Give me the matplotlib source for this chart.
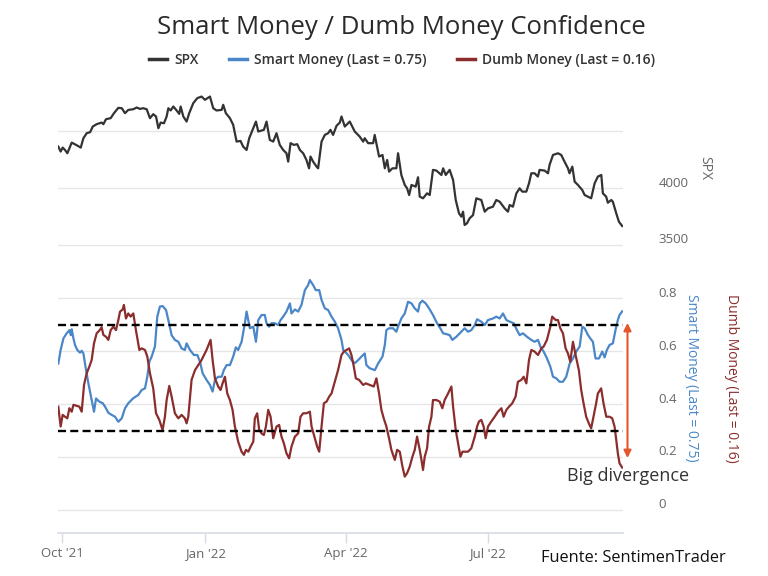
import numpy as np
import matplotlib
matplotlib.use('Agg')
import matplotlib.pyplot as plt
import matplotlib.dates as mdates
from matplotlib.transforms import ScaledTranslation
from matplotlib.lines import Line2D

plt.rcParams['font.family'] = ['Open Sans', 'DejaVu Sans']

start_date = np.datetime64('2021-10-01')

# ---- SPX (days since 2021-10-01, index level) ----
spx_days = [-2.4,-0.9,0.4,1.9,3.4,6.2,9.0,12.0,13.7,15.8,
            18.0,19.7,22.2,25.4,26.5,28.2,31.2,33.3,36.1,38.3,
            40.4,42.5,45.7,47.9,50.0,52.1,54.3,56.4,58.5,60.3,
            61.8,63.3,65.4,67.1,68.2,69.7,71.4,73.5,75.2,76.1,
            77.8,79.9,81.6,84.2,86.8,89.5,91.7,94.9,97.0,99.1,
            102.4,103.4,105.1,107.7,109.8,112.0,114.5,116.2,118.4,120.1,
            122.7,124.4,125.9,128.0,129.5,131.2,133.3,135.5,137.6,139.7,
            141.9,144.0,145.1,146.6,148.7,150.9,152.6,154.7,156.8,158.5,
            159.4,161.1,163.3,164.3,166.5,168.6,170.7,172.2,173.9,176.1,
            178.2,
            179.3,181.4,184.6,187.8,191.0,193.2,194.2,196.4,199.6,200.6,
            203.4,205.6,207.1,208.6,209.8,212.0,214.5,215.6,217.7,219.9,
            221.4,222.7,224.2,226.9,228.4,229.5,231.6,234.2,235.9,238.0,
            240.2,243.4,244.5,246.2,248.7,250.9,252.6,254.7,256.2,257.3,
            258.3,259.8,261.5,263.7,265.8,269.0,271.2,273.3,276.5,278.6,
            280.8,284.0,286.1,287.2,289.3,291.5,293.6,295.3,297.9,299.6,
            301.1,303.2,305.3,306.4,309.6,311.8,312.8,315.0,318.2,320.3,
            322.4,324.6,325.6,327.4,328.9,331.0,333.8,335.3,337.4,339.5,
            341.7,343.8,346.0,347.0,349.1,350.2,352.4,353.4,355.6,357.3,
            359.4]
spx_vals = [4366,4322,4357,4336,4307,4401,4381,4357,4440,4484,
            4493,4543,4564,4578,4564,4608,4617,4661,4708,4705,
            4661,4690,4696,4711,4699,4705,4696,4617,4652,4632,
            4528,4578,4572,4632,4705,4685,4720,4685,4655,4720,
            4632,4587,4661,4750,4794,4808,4779,4808,4705,4685,
            4690,4735,4661,4617,4558,4410,4416,4366,4336,4440,
            4528,4587,4499,4508,4514,4587,4425,4410,4484,4381,
            4336,4307,4233,4396,4381,4387,4336,4307,4248,4174,
            4278,4233,4189,4174,4410,4469,4484,4514,4469,4549,
            4578,
            4632,4543,4587,4499,4454,4410,4440,4396,4396,4469,
            4278,4292,4174,4248,4145,4174,4174,4307,4115,4027,
            3997,3938,4027,4012,4095,3924,3909,3953,3938,4160,
            4154,4115,4174,4115,4160,4071,3894,3776,3747,3791,
            3673,3688,3732,3761,3909,3894,3791,3820,3835,3894,
            3879,3820,3791,3850,3835,3953,3997,3968,3968,4041,
            4130,4130,4101,4160,4154,4130,4204,4292,4307,4292,
            4233,4174,4130,4189,4056,4027,3982,3938,3924,3909,
            4041,4101,4115,3953,3924,3870,3894,3879,3776,3702,
            3664]

# ---- Smart Money confidence ----
smart_days = [-2.4,-0.9,0.9,3.0,4.7,5.6,6.2,7.3,8.3,9.8,
              11.5,12.6,13.7,15.4,16.9,19.0,20.5,21.8,23.9,26.1,
              27.6,29.7,31.8,34.0,36.1,38.3,40.4,42.5,45.7,48.9,
              51.1,53.2,54.7,56.0,57.5,59.6,61.1,62.8,64.5,66.7,
              68.2,70.3,72.4,74.6,76.7,78.8,79.9,82.1,84.6,86.8,
              88.5,90.2,92.7,94.9,96.6,98.1,100.2,102.4,103.8,105.6,
              107.7,109.8,111.5,113.0,115.2,117.3,118.4,120.5,122.7,124.4,
              125.9,128.0,130.1,131.2,132.9,134.4,136.5,138.7,140.2,141.9,
              144.0,146.2,147.2,149.4,151.5,153.6,155.8,157.9,159.0,161.1,
              162.8,165.0,166.5,168.6,170.7,172.9,175.0,177.1,179.3,180.4,
              181.4,183.6,185.7,187.8,190.0,192.1,194.2,195.3,197.4,200.7,
              202.8,205.6,207.1,208.1,209.8,212.4,214.5,215.6,217.7,219.9,
              222.0,224.2,226.3,228.4,
              229.5,231.2,233.3,235.5,238.0,240.6,242.7,244.5,246.6,248.7,
              250.4,253.0,256.2,258.3,260.5,262.6,264.8,266.3,269.0,271.2,
              273.3,276.5,278.6,280.8,282.9,285.1,287.2,289.8,291.9,293.6,
              295.7,298.3,301.1,303.2,305.4,306.9,309.0,311.1,313.3,315.0,
              317.1,319.2,321.4,323.5,325.7,327.8,329.9,332.1,333.8,335.3,
              337.4,338.9,340.6,342.3,344.5,346.6,348.1,349.6,351.3,353.4,
              355.1,356.6,357.7,359.4]
smart_vals = [0.553,0.604,0.648,0.667,0.679,0.660,0.682,0.648,0.623,0.604,
              0.594,0.601,0.591,0.528,0.478,0.415,0.371,0.421,0.409,0.403,
              0.390,0.367,0.359,0.352,0.333,0.346,0.384,0.403,0.422,0.434,
              0.453,0.459,0.503,0.560,0.579,0.617,0.730,0.768,0.770,0.755,
              0.717,0.660,0.642,0.635,0.610,0.604,0.629,0.604,0.585,0.585,
              0.560,0.516,0.491,0.472,0.447,0.491,0.503,0.503,0.528,0.547,
              0.547,0.579,0.614,0.604,0.635,0.705,0.749,0.686,0.692,0.635,
              0.717,0.736,0.736,0.705,0.692,0.705,0.705,0.698,0.717,0.730,
              0.749,0.780,0.742,0.757,0.749,0.774,0.830,0.849,0.868,0.849,
              0.830,0.830,0.793,0.761,0.755,0.730,0.711,0.686,0.642,0.604,
              0.598,0.585,0.566,0.554,0.566,0.579,0.591,0.547,0.535,0.528,
              0.553,0.579,0.623,0.679,0.686,0.686,0.673,0.692,0.723,0.742,
              0.786,0.780,0.761,0.749,
              0.780,0.790,0.780,0.761,0.736,0.705,0.686,0.667,0.664,0.660,
              0.642,0.654,0.673,0.686,0.673,0.679,0.698,0.720,0.711,0.698,
              0.717,0.723,0.730,0.723,0.742,0.717,0.711,0.705,0.679,0.660,
              0.667,0.654,0.642,0.635,0.642,0.617,0.598,0.573,0.541,0.503,
              0.497,0.484,0.484,0.503,0.553,0.572,0.598,0.617,0.692,0.686,
              0.661,0.648,0.635,0.572,0.572,0.598,0.576,0.604,0.623,0.629,
              0.679,0.717,0.736,0.750]

# ---- Dumb Money confidence ----
dumb_days = [-2.4,-0.9,0.4,1.9,3.4,4.7,6.2,7.3,9.4,11.1,
             12.6,14.1,15.8,17.5,19.0,20.5,22.2,23.9,25.4,26.5,
             28.2,29.7,31.2,32.9,34.6,36.1,37.2,38.9,39.7,41.0,
             42.5,44.0,45.7,47.4,49.6,51.1,53.2,54.7,56.4,58.5,
             60.3,62.4,64.5,66.0,67.1,68.8,70.3,72.4,74.6,76.7,
             78.8,79.9,81.0,83.1,85.3,87.4,89.5,92.7,95.3,96.6,
             98.1,100.2,101.7,103.0,104.5,106.0,
             107.7,109.4,110.9,113.0,115.2,116.7,118.0,119.5,121.0,122.7,
             123.7,125.2,126.5,128.0,129.5,130.8,132.3,133.8,135.5,137.6,
             139.3,140.8,142.3,144.0,145.7,147.2,149.4,151.5,153.0,154.7,
             156.8,159.0,160.1,162.2,163.7,165.0,166.5,168.0,169.7,171.4,
             172.9,175.0,177.1,179.3,180.8,182.5,184.2,185.7,187.2,188.5,
             190.6,193.2,194.9,197.4,200.0,201.7,203.4,204.9,206.4,208.1,
             209.8,211.3,213.5,215.0,216.7,218.4,219.9,221.4,223.1,224.8,
             226.3,227.8,
             229.5,230.6,231.6,232.7,234.2,235.5,237.0,238.0,240.2,242.3,
             244.0,245.5,247.7,249.8,250.9,252.6,254.1,255.6,256.9,258.3,
             260.5,262.6,264.8,266.3,267.5,269.0,270.5,271.8,273.3,275.4,
             277.6,279.7,281.9,283.3,285.1,286.8,288.9,291.0,292.5,294.7,
             296.2,297.9,299.6,301.1,303.2,305.4,307.5,309.0,311.1,313.3,
             314.5,316.7,318.2,319.7,321.4,323.1,324.6,326.1,327.8,329.5,
             331.6,333.1,334.6,336.3,338.0,339.5,341.0,342.7,343.8,345.9,
             347.4,349.2,351.3,353.0,354.5,355.6,356.6,357.7,359.4]
dumb_vals = [0.390,0.315,0.359,0.352,0.346,0.384,0.371,0.397,0.393,0.390,
             0.371,0.472,0.516,0.541,0.566,0.629,0.667,0.677,0.690,0.661,
             0.654,0.642,0.679,0.692,0.679,0.717,0.749,0.757,0.774,0.723,
             0.742,0.730,0.742,0.679,0.604,0.610,0.604,0.579,0.516,0.459,
             0.365,0.340,0.302,0.352,0.415,0.468,0.428,0.365,0.346,0.359,
             0.346,0.327,0.352,0.491,0.528,0.547,0.566,0.604,0.642,0.566,
             0.497,0.466,0.453,0.478,0.503,0.440,
             0.415,0.378,0.315,0.258,0.220,0.208,0.227,0.220,0.239,0.258,
             0.346,0.365,0.302,0.289,0.283,0.315,0.378,0.352,0.271,0.315,
             0.321,0.277,0.252,0.214,0.195,0.239,0.277,0.289,0.352,0.365,
             0.365,0.371,0.315,0.271,0.239,0.220,0.315,0.403,0.409,0.428,
             0.440,0.484,0.528,0.585,0.598,0.604,0.610,0.585,0.541,0.497,
             0.491,0.472,0.478,0.472,0.466,0.497,0.440,0.378,0.346,0.315,
             0.271,0.227,0.189,0.227,0.220,0.164,0.126,0.139,0.164,0.201,
             0.227,0.277,
             0.227,0.189,0.151,0.201,0.233,0.315,0.352,0.415,0.415,0.409,
             0.384,0.415,0.440,0.466,0.390,0.302,0.252,0.201,0.220,0.220,
             0.220,0.233,0.277,0.315,0.334,0.340,0.315,0.271,0.315,0.334,
             0.352,0.371,0.384,0.352,0.378,0.390,0.403,0.428,0.484,0.491,
             0.503,0.478,0.566,0.604,0.598,0.585,0.610,0.617,0.642,0.692,
             0.730,0.717,0.717,0.686,0.667,0.610,0.591,0.560,0.635,0.585,
             0.528,0.453,0.403,0.352,0.327,0.308,0.352,0.403,0.440,0.459,
             0.403,0.352,0.352,0.346,0.315,0.264,0.214,0.176,0.160]

band_levels = [0.70, 0.30]
divergence_range = (0.196, 0.706)
spx_ticks = [3500, 4000, 4500]
spx_ticklabels = ['3500', '4000', '']
conf_ticks = [0, 0.2, 0.4, 0.6, 0.8]
conf_ticklabels = ['0', '0.2', '0.4', '0.6', '0.8']
x_tick_dates = ['2021-10-01', '2022-01-01', '2022-04-01', '2022-07-01']
x_tick_labels = ["Oct '21", "Jan '22", "Apr '22", "Jul '22"]

C_SPX = '#333333'
C_SMART = '#4a86c8'
C_DUMB = '#8b2d2d'
C_GRID = '#e6e6e6'
C_LABEL = '#666666'

def to_num(days):
    return mdates.date2num(start_date) + np.asarray(days, dtype=float)

W, H = 768, 576
fig = plt.figure(figsize=(W / 100, H / 100), dpi=100)
L, R = 58 / W, 622.5 / W
ax1 = fig.add_axes([L, 1 - 248 / H, R - L, (248 - 85) / H])
ax2 = fig.add_axes([L, 1 - 533 / H, R - L, (533 - 270) / H])

xlim = (to_num(-2.6), to_num(359.6))
shift_up = ScaledTranslation(0, 6.5 / 100, fig.dpi_scale_trans)
LW = 1.6

# upper panel
ax1.plot(to_num(spx_days), spx_vals, color=C_SPX, lw=LW, solid_joinstyle='round')
ax1.set_xlim(*xlim)
ax1.set_ylim(3470, 4910)
ax1.set_yticks(spx_ticks)
ax1.set_yticklabels(spx_ticklabels)
ax1.yaxis.tick_right()
ax1.tick_params(axis='y', length=0, pad=26, labelsize=9.5, labelcolor=C_LABEL)
ax1.set_xticks([])
ax1.grid(axis='y', color=C_GRID, lw=1)
for s in ax1.spines.values():
    s.set_visible(False)
for lab in ax1.get_yticklabels():
    lab.set_transform(lab.get_transform() + shift_up)

# lower panel
ax2.plot(to_num(smart_days), smart_vals, color=C_SMART, lw=LW, solid_joinstyle='round')
ax2.plot(to_num(dumb_days), dumb_vals, color=C_DUMB, lw=LW, solid_joinstyle='round')
for lvl in band_levels:
    ax2.axhline(lvl, color='black', lw=1.7, ls=(0, (3.4, 1.8)))
ax2.set_xlim(*xlim)
ax2.set_ylim(-0.087, 0.906)
ax2.set_yticks(conf_ticks)
ax2.set_yticklabels(conf_ticklabels)
ax2.yaxis.tick_right()
ax2.tick_params(axis='y', length=0, pad=26, labelsize=9.5, labelcolor=C_LABEL)
ax2.grid(axis='y', color=C_GRID, lw=1)
for lab in ax2.get_yticklabels():
    lab.set_transform(lab.get_transform() + shift_up)
for k, s in ax2.spines.items():
    s.set_visible(k == 'bottom')
ax2.spines['bottom'].set_color('#d6dbe3')
ax2.spines['bottom'].set_linewidth(1.2)
ax2.set_xticks(to_num([(np.datetime64(d) - start_date).astype(int) for d in x_tick_dates]))
ax2.set_xticklabels(x_tick_labels)
ax2.tick_params(axis='x', direction='out', length=7, width=1, color='#d6dbe3',
                labelsize=9.5, labelcolor=C_LABEL, pad=3)

# divergence arrow
arrow_x = to_num(362.8)
ax2.annotate('', xy=(arrow_x, divergence_range[0]), xytext=(arrow_x, divergence_range[1]),
             arrowprops=dict(arrowstyle='<|-|>', color='#e4572e', lw=1.5,
                             mutation_scale=11, shrinkA=0, shrinkB=0),
             annotation_clip=False)

# texts
fig.text(401 / W, 1 - 27 / H, 'Smart Money / Dumb Money Confidence', ha='center', va='center',
         fontsize=18.5, color='#2a2a2a')
handles = [Line2D([], [], color=C_SPX, lw=2.5),
           Line2D([], [], color=C_SMART, lw=2.5),
           Line2D([], [], color=C_DUMB, lw=2.5)]
labels = ['SPX', 'Smart Money (Last = 0.75)', 'Dumb Money (Last = 0.16)']
fig.legend(handles, labels, loc='center', bbox_to_anchor=(402 / W, 1 - 60 / H), ncol=3,
           frameon=False, handlelength=1.3, handletextpad=0.5, columnspacing=2.2,
           prop=dict(size=10, weight='semibold'), labelcolor='#333333')

fig.text(705 / W, 1 - 168 / H, 'SPX', rotation=270, ha='center', va='center',
         fontsize=10, color=C_LABEL)
fig.text(692 / W, 1 - 378 / H, 'Smart Money (Last = 0.75)', rotation=270, ha='center',
         va='center', fontsize=10, color=C_SMART)
fig.text(732 / W, 1 - 378 / H, 'Dumb Money (Last = 0.16)', rotation=270, ha='center',
         va='center', fontsize=10, color=C_DUMB)
fig.text(628.5 / W, 1 - 476 / H, 'Big divergence', ha='center', va='center',
         fontsize=13, color='#333333')
fig.text(633 / W, 1 - 558 / H, 'Fuente: SentimenTrader', ha='center', va='center',
         fontsize=11.8, color='#111111')

fig.savefig('out.png', dpi=100)
